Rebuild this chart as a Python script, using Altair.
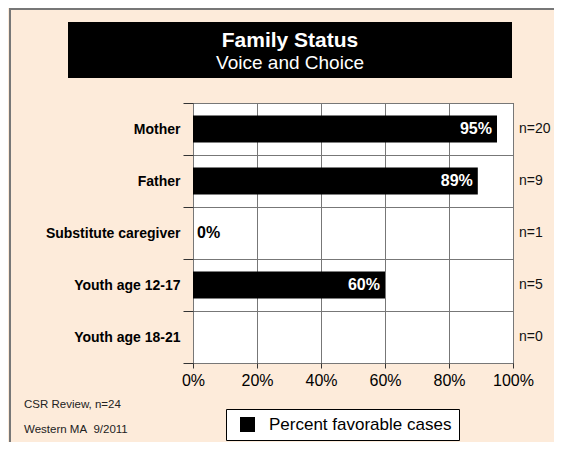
import altair as alt
import pandas as pd

# ---- data ----
categories = ["Mother", "Father", "Substitute caregiver", "Youth age 12-17", "Youth age 18-21"]
percent_favorable = [95, 89, 0, 60, None]
n_counts = [20, 9, 1, 5, 0]
x_ticks = [0, 20, 40, 60, 80, 100]
series_name = "Percent favorable cases"
title_text = "Family Status"
subtitle_text = "Voice and Choice"
footnotes = ["CSR Review, n=24", "Western MA\u00a0 9/2011"]

df = pd.DataFrame({"category": categories, "value": percent_favorable, "n": n_counts})
df["series"] = series_name
df["label"] = [("" if pd.isna(v) else f"{int(v)}%") for v in percent_favorable]
df["nlabel"] = ["n=" + str(n) for n in n_counts]

FONT = "Liberation Sans"
W, H = 320, 260
PEACH = "#FDEBDA"

x_enc = alt.X(
    "value:Q",
    scale=alt.Scale(domain=[0, 100], nice=False),
    axis=alt.Axis(
        title=None, values=x_ticks, labelExpr="datum.value + '%'",
        tickSize=5, labelFontSize=16, labelPadding=4, grid=True,
        labelFlush=False, labelOverlap=False,
        labelFont=FONT, labelColor="black",
    ),
)
y_enc = alt.Y(
    "category:N", sort=categories,
    scale=alt.Scale(paddingInner=0, paddingOuter=0),
    axis=alt.Axis(
        title=None, tickBand="extent", tickSize=10, labelFontSize=14,
        labelFontWeight="bold", labelPadding=3, grid=True, labelLimit=300,
        labelFont=FONT, labelColor="black",
    ),
)

bars = alt.Chart(df).mark_bar(size=27).encode(
    x=x_enc, y=y_enc,
    color=alt.Color(
        "series:N", scale=alt.Scale(range=["black"]),
        legend=alt.Legend(
            orient="none", legendX=33, legendY=306, title=None,
            strokeColor="black", fillColor="white", padding=7,
            symbolType="square", symbolSize=225, symbolStrokeWidth=0,
            symbolOffset=6, labelOffset=13, labelFont=FONT, labelFontSize=17,
            labelColor="black", labelLimit=400,
            labelExpr="datum.label + '\u00a0\u00a0'",
        ),
    ),
)

inside_labels = alt.Chart(df).transform_filter("datum.value > 0").mark_text(
    align="right", baseline="middle", dx=-5, font=FONT, fontSize=16,
    fontWeight="bold", color="white",
).encode(x=x_enc, y=y_enc, text="label:N")

zero_labels = alt.Chart(df).transform_filter("datum.value == 0").mark_text(
    align="left", baseline="middle", dx=4, font=FONT, fontSize=16,
    fontWeight="bold", color="black",
).encode(x=x_enc, y=y_enc, text="label:N")

n_labels = alt.Chart(df).mark_text(
    align="left", baseline="middle", dx=6, font=FONT, fontSize=14, color="#111",
).encode(x=alt.datum(100), y=y_enc, text="nlabel:N")

one = alt.Data(values=[{}])

title_box = alt.Chart(one).mark_rect(color="black").encode(
    x=alt.value(-125), x2=alt.value(319), y=alt.value(-81), y2=alt.value(-25)
)
title_mark = alt.Chart(one).mark_text(
    align="center", baseline="alphabetic", font=FONT, fontSize=21,
    fontWeight="bold", color="white", text=title_text,
).encode(x=alt.value(97), y=alt.value(-56))
subtitle_mark = alt.Chart(one).mark_text(
    align="center", baseline="alphabetic", font=FONT, fontSize=19,
    color="white", text=subtitle_text,
).encode(x=alt.value(97), y=alt.value(-34))

foot1 = alt.Chart(one).mark_text(
    align="left", baseline="middle", font=FONT, fontSize=11.5, color="#222",
    text=footnotes[0],
).encode(x=alt.value(-169), y=alt.value(302))
foot2 = alt.Chart(one).mark_text(
    align="left", baseline="middle", font=FONT, fontSize=11.5, color="#222",
    text=footnotes[1],
).encode(x=alt.value(-169), y=alt.value(327))

border_left = alt.Chart(one).mark_rule(color="#777", strokeWidth=2).encode(
    x=alt.value(-183), y=alt.value(-95), y2=alt.value(H + 79)
)
border_top = alt.Chart(one).mark_rule(color="#777", strokeWidth=2).encode(
    x=alt.value(-184), x2=alt.value(W + 41), y=alt.value(-94)
)

chart = alt.layer(
    bars, inside_labels, zero_labels, n_labels,
    title_box, title_mark, subtitle_mark, foot1, foot2,
    border_left, border_top,
).properties(
    width=W, height=H, background=PEACH,
    autosize=alt.AutoSizeParams(type="none"),
    padding={"left": 185, "top": 95, "right": 41, "bottom": 79},
).configure_view(
    fill="white", stroke="#333", strokeWidth=1
).configure_axis(
    gridColor="#777", gridWidth=1, tickColor="#333", domain=False,
)

chart.save("out.html", embed_options={"renderer": "svg", "actions": False})
